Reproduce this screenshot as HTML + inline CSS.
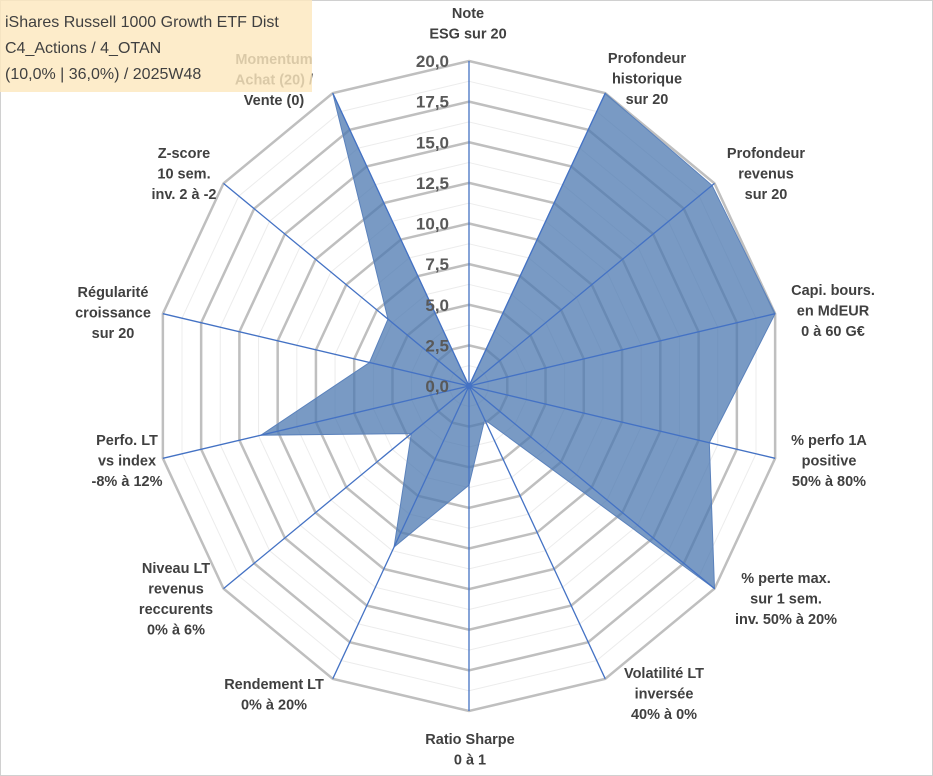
<!DOCTYPE html>
<html><head><meta charset="utf-8"><style>
body{margin:0;background:#fff;}
svg{display:block;font-family:"Liberation Sans",Arial,sans-serif;}
</style></head><body>
<svg id="chart" width="933" height="776" viewBox="0 0 933 776">
<rect x="0.5" y="0.5" width="932" height="775" fill="#fff" stroke="#d0d0d0"/>
<g id="grid"></g><g id="series"></g><g id="axes"></g><g id="ticks"></g><g id="labels"></g>
<rect x="0" y="0" width="312" height="92" fill="rgb(253,232,190)" fill-opacity="0.82"/>
<g font-size="16" fill="#404040">
<text x="5" y="27">iShares Russell 1000 Growth ETF Dist</text>
<text x="5" y="53">C4_Actions / 4_OTAN</text>
<text x="5" y="79">(10,0% | 36,0%) / 2025W48</text>
</g>
</svg>
<script>
const categories=[["Note","ESG sur 20"],["Profondeur","historique","sur 20"],["Profondeur","revenus","sur 20"],["Capi. bours.","en MdEUR","0 à 60 G€"],["% perfo 1A","positive","50% à 80%"],["% perte max.","sur 1 sem.","inv. 50% à 20%"],["Volatilité LT","inversée","40% à 0%"],["Ratio Sharpe","0 à 1"],["Rendement LT","0% à 20%"],["Niveau LT","revenus","reccurents","0% à 6%"],["Perfo. LT","vs index","-8% à 12%"],["Régularité","croissance","sur 20"],["Z-score","10 sem.","inv. 2 à -2"],["Momentum","Achat (20) /","Vente (0)"]];
const values=[0,20,19.8,20,15.7,20,2.3,6.1,11,4.7,13.6,6.5,6.6,20];
const tickLabels=["0,0","2,5","5,0","7,5","10,0","12,5","15,0","17,5","20,0"];
const maxVal=20;
const NS="http://www.w3.org/2000/svg";
const cx=469,cy=386,RX=314,RY=325,N=categories.length;
function ang(i){return i*2*Math.PI/N;}
function pt(i,v){const f=v/maxVal;return [cx+f*RX*Math.sin(ang(i)),cy-f*RY*Math.cos(ang(i))];}
function mk(tag,attrs,parent){const e=document.createElementNS(NS,tag);for(const k in attrs)e.setAttribute(k,attrs[k]);parent.appendChild(e);return e;}
const grid=document.getElementById('grid');
for(let s=1;s<=16;s++){
  const v=s*maxVal/16;
  const pts=categories.map((c,i)=>pt(i,v).join(',')).join(' ');
  const e=mk('polygon',{points:pts,fill:'none',stroke:s%2?'#ececec':'#bfbfbf','stroke-width':s%2?1:2.5},grid);
  
  
}
const ser=document.getElementById('series');
const poly=mk('polygon',{points:values.map((v,i)=>pt(i,v).join(',')).join(' '),fill:'rgba(76,120,176,0.75)',stroke:'#5b82bc','stroke-width':1},ser);


const ax=document.getElementById('axes');
categories.forEach((c,i)=>{const p=pt(i,maxVal);
  const l=mk('line',{x1:cx,y1:cy,x2:p[0],y2:p[1],stroke:'#4472c4','stroke-width':1.3},ax);
  
  
});
mk('circle',{cx:cx,cy:cy,r:3,fill:'#4472c4'},ax);
const tk=document.getElementById('ticks');
tickLabels.forEach((t,k)=>{const y=cy-(k*2.5)/maxVal*RY;
  const e=mk('text',{x:449,y:y+6,'text-anchor':'end','font-size':17,'font-weight':'bold',fill:'#595959'},tk);
  e.textContent=t;
  
  
});
const labelPos=[[468,13],[647,58],[766,153],[833,290],[829,440],[786,578],[664,673],[470,739],[274,684],[176,568],[127,440],[113,292],[184,153],[274,59]];
const lg=document.getElementById('labels');
categories.forEach((lines,i)=>{
  const g=mk('text',{'text-anchor':'middle','font-size':14.5,'font-weight':'bold',fill:'#404040'},lg);
  
  
  lines.forEach((ln,j)=>{const s=mk('tspan',{x:labelPos[i][0],y:labelPos[i][1]+j*20.5+5},g);s.textContent=ln;});
});
</script>
</body></html>
